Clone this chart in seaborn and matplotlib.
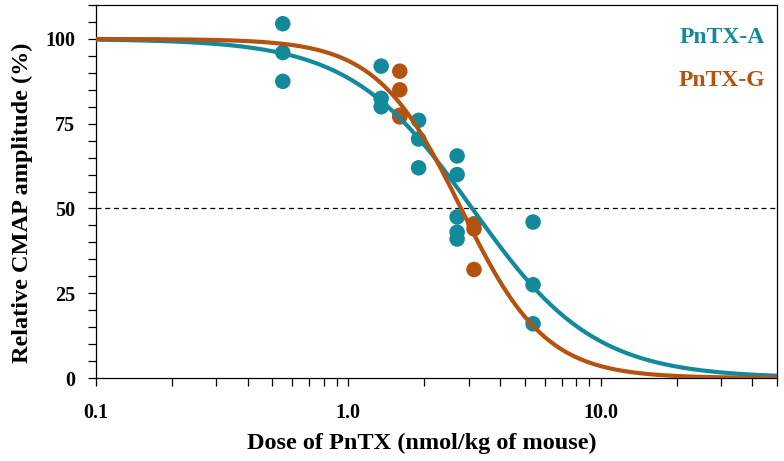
import numpy as np
import pandas as pd
import seaborn as sns
import matplotlib.pyplot as plt
from matplotlib.ticker import FixedLocator, MultipleLocator, FixedFormatter

# measured points (dose in nmol/kg, response in %)
dose_a = [0.55, 0.55, 0.55, 1.35, 1.35, 1.35, 1.9, 1.9, 1.9,
          2.7, 2.7, 2.7, 2.7, 2.7, 5.4, 5.4, 5.4]
resp_a = [104.5, 96, 87.5, 92, 82.5, 80, 76, 70.5, 62,
          65.5, 60, 47.5, 43, 41, 46, 27.5, 16]
dose_g = [1.6, 1.6, 1.6, 1.6, 3.15, 3.15, 3.15]
resp_g = [90.5, 85, 77.5, 77, 45.5, 44, 32]

# fitted dose-response (Hill) parameters
ic50_a, hill_a = 3.1, 1.8
ic50_g, hill_g = 2.8, 2.6

col_a = "#128A9C"
col_g = "#B4520F"

sns.set_theme(style="ticks")
plt.rcParams["font.family"] = ["Liberation Serif", "DejaVu Serif"]
plt.rcParams["font.weight"] = "bold"
plt.rcParams["text.color"] = "black"
plt.rcParams["axes.labelcolor"] = "black"

pts = pd.DataFrame({
    "dose": dose_a + dose_g,
    "resp": resp_a + resp_g,
    "toxin": ["PnTX-A"] * len(dose_a) + ["PnTX-G"] * len(dose_g),
})

xs = np.logspace(-1, np.log10(50), 400)
fit = pd.DataFrame({
    "dose": np.concatenate([xs, xs]),
    "resp": np.concatenate([100 / (1 + (xs / ic50_a) ** hill_a),
                            100 / (1 + (xs / ic50_g) ** hill_g)]),
    "toxin": ["PnTX-A"] * len(xs) + ["PnTX-G"] * len(xs),
})
pal = {"PnTX-A": col_a, "PnTX-G": col_g}

fig = plt.figure(figsize=(7.84, 4.61), dpi=100)
ax = fig.add_axes([0.1224, 0.18, 0.8686, 0.809])

ax.axhline(50, color="black", lw=0.9, ls=(0, (4, 3)), zorder=1)
sns.scatterplot(data=pts, x="dose", y="resp", hue="toxin", palette=pal,
                s=125, linewidth=0, legend=False, ax=ax, zorder=2)
sns.lineplot(data=fit, x="dose", y="resp", hue="toxin", palette=pal,
             lw=3, legend=False, ax=ax, zorder=3)

ax.set_xscale("log")
ax.set_xlim(0.1, 50)
ax.set_ylim(0, 110)
ax.xaxis.set_major_locator(FixedLocator([0.1, 1, 10]))
ax.xaxis.set_major_formatter(FixedFormatter(["0.1", "1.0", "10.0"]))
ax.yaxis.set_major_locator(FixedLocator([0, 25, 50, 75, 100]))
ax.yaxis.set_minor_locator(MultipleLocator(5))

ax.tick_params(axis="both", which="both", direction="out", length=6,
               width=0.9, colors="black", labelsize=14.5)
ax.tick_params(axis="x", which="both", pad=12)
ax.tick_params(axis="y", which="both", pad=9)
for lab in ax.get_xticklabels() + ax.get_yticklabels():
    lab.set_fontweight("bold")

for sp in ax.spines.values():
    sp.set_color("black")
    sp.set_linewidth(0.9)

ax.set_xlabel("Dose of PnTX (nmol/kg of mouse)", fontsize=17.5,
              fontweight="bold")
ax.set_ylabel("Relative CMAP amplitude (%)", fontsize=17.5,
              fontweight="bold")
ax.xaxis.set_label_coords(0.479, -0.148)
ax.yaxis.set_label_coords(-0.093, 0.469)

ax.text(0.982, 0.914, "PnTX-A", color=col_a, fontsize=17, fontweight="bold",
        ha="right", va="center", transform=ax.transAxes)
ax.text(0.982, 0.799, "PnTX-G", color=col_g, fontsize=17, fontweight="bold",
        ha="right", va="center", transform=ax.transAxes)

fig.savefig("out.png", dpi=100)
